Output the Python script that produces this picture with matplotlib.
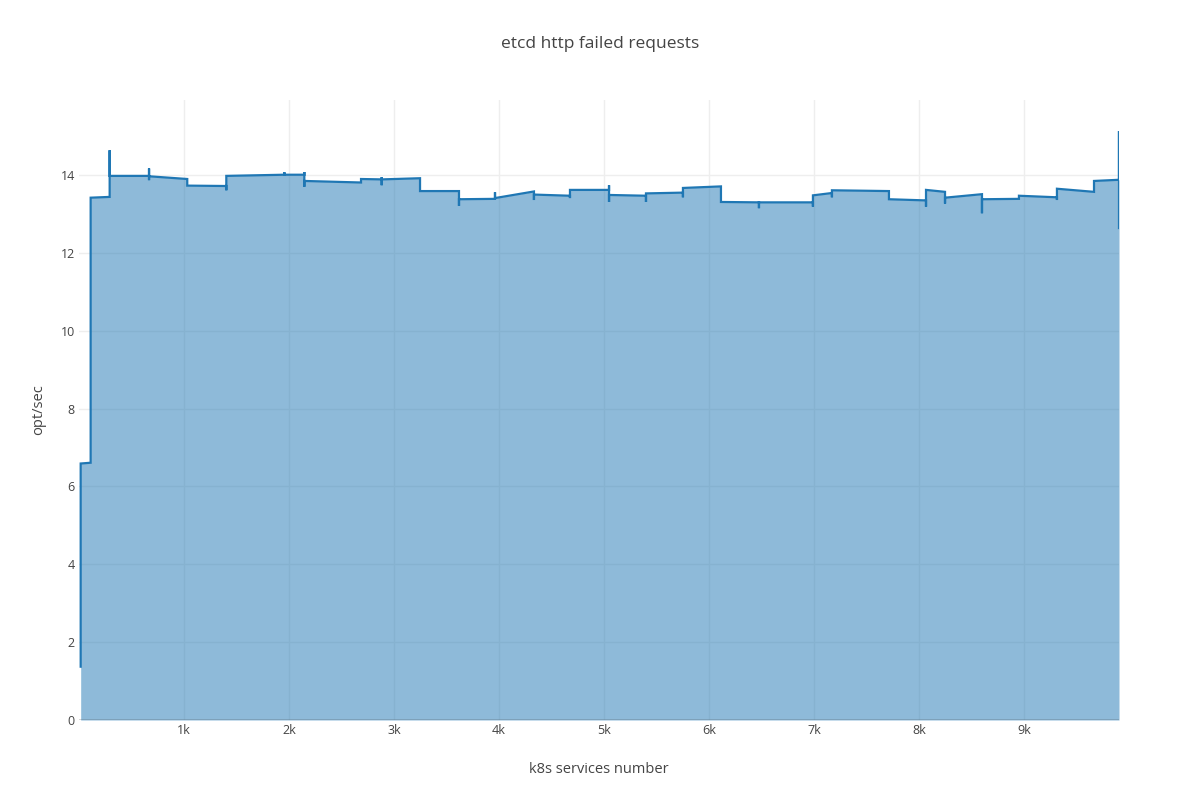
import matplotlib
matplotlib.use("Agg")
import matplotlib.pyplot as plt

title = "etcd http failed requests"
x_label = "k8s services number"
y_label = "opt/sec"

services = [16, 16, 111, 111, 292, 292, 292, 667, 667, 667, 667, 1031, 1031, 1403, 1403, 1403,
            1955, 1955, 1955, 2146, 2146, 2146, 2146, 2686, 2686, 2883, 2883, 2883, 2883, 3248, 3248,
            3619, 3619, 3619, 3962, 3962, 3962, 4333, 4333, 4333, 4676, 4676, 4676, 5048, 5048,
            5048, 5048, 5400, 5400, 5400, 5752, 5752, 5752, 6114, 6114, 6476, 6476, 6476, 6990,
            6990, 6990, 7171, 7171, 7171, 7714, 7714, 8067, 8067, 8067, 8248, 8248, 8248, 8600,
            8600, 8600, 8952, 8952, 9314, 9314, 9314, 9667, 9667, 9905, 9905, 9905]
failed = [1.37, 6.59, 6.61, 13.42, 13.44, 14.64, 13.98, 13.98, 14.17, 13.87, 13.97, 13.90, 13.73,
          13.72, 13.61, 13.98, 14.01, 14.08, 14.01, 14.01, 14.08, 13.70, 13.85, 13.81, 13.90,
          13.89, 13.95, 13.74, 13.89, 13.92, 13.59, 13.59, 13.21, 13.38, 13.39, 13.56, 13.41, 13.58,
          13.36, 13.50, 13.47, 13.41, 13.62, 13.62, 13.74, 13.31, 13.49, 13.47, 13.31, 13.53,
          13.55, 13.43, 13.67, 13.71, 13.31, 13.30, 13.15, 13.30, 13.30, 13.19, 13.48, 13.54,
          13.43, 13.61, 13.59, 13.38, 13.35, 13.19, 13.62, 13.57, 13.27, 13.42, 13.51, 13.02,
          13.38, 13.39, 13.47, 13.43, 13.36, 13.65, 13.57, 13.85, 13.88, 15.13, 12.64]

x_ticks = [1000, 2000, 3000, 4000, 5000, 6000, 7000, 8000, 9000]
x_tick_labels = ["1k", "2k", "3k", "4k", "5k", "6k", "7k", "8k", "9k"]
y_ticks = [0, 2, 4, 6, 8, 10, 12, 14]

plt.rcParams['font.family'] = ['Open Sans', 'DejaVu Sans']
fig = plt.figure(figsize=(12, 8), dpi=100)
ax = fig.add_axes([79/1200, 80/800, 1040/1200, 620/800])

line_color = "#1f77b4"
ax.fill_between(services, failed, 0, color=line_color, alpha=0.5, linewidth=0, zorder=2)
ax.plot(services, failed, color=line_color, linewidth=1.6, zorder=3, solid_joinstyle='miter')

ax.set_xlim(0, 9905)
ax.set_ylim(0, 15.93)
ax.set_xticks(x_ticks)
ax.set_xticklabels(x_tick_labels)
ax.set_yticks(y_ticks)
ax.grid(True, color="#eeeeee", linewidth=1, zorder=0)
ax.set_axisbelow(True)
for s in ax.spines.values():
    s.set_visible(False)
ax.axhline(0, color="#444444", linewidth=1, zorder=4)
ax.tick_params(length=0, labelsize=9, colors="#444444", pad=3)

ax.set_xlabel(x_label, fontsize=10.5, color="#444444", labelpad=18)
ax.set_ylabel(y_label, fontsize=10.5, color="#444444", labelpad=10.5)
fig.text(0.5, 1 - 44/800, title, ha="center", va="center", fontsize=12.5, color="#444444")

fig.savefig("out.png", dpi=100)
